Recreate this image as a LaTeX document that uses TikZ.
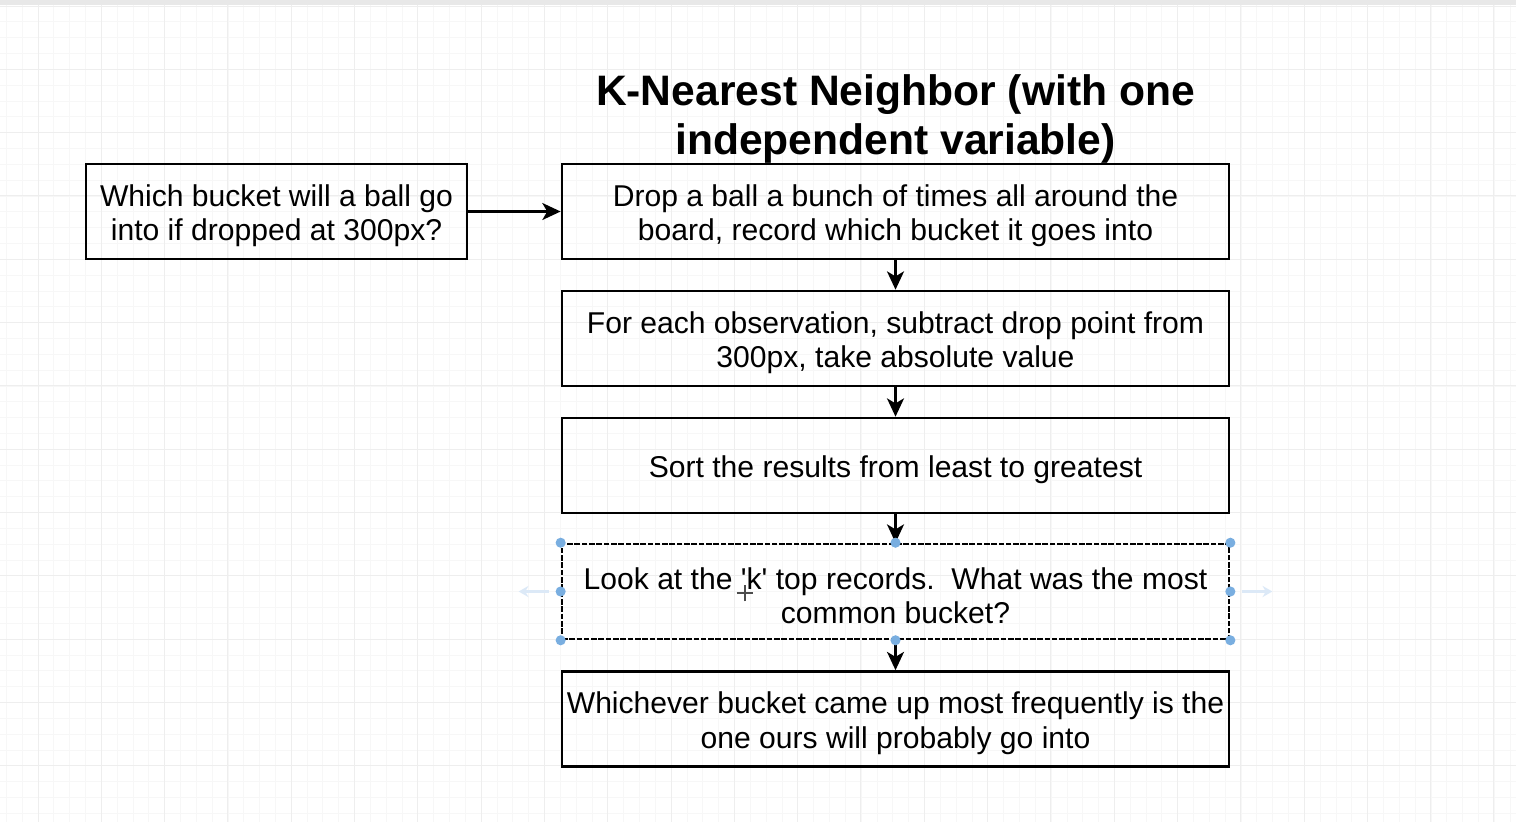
\documentclass[tikz,border=0pt]{standalone}
\usepackage{fontspec}
\setmainfont{Liberation Sans}
\usepackage{tikz}
\usetikzlibrary{arrows, arrows.meta, shapes, positioning}

\definecolor{gridminor}{HTML}{F7F7F7}
\definecolor{gridmajor}{HTML}{EEEEEE}
\definecolor{handleblue}{HTML}{79AEE0}
\definecolor{hintblue}{HTML}{DCE9F7}
\newcommand{\boxstrut}{\rule{0pt}{21.5pt}}

\begin{document}
\begin{tikzpicture}[x=0.025cm, y=-0.025cm, ->, >={Stealth[length=13pt, width=12pt, inset=3.5pt]}, line width=2.1pt,
	stepbox/.style={draw, rectangle, line width=1.8pt, minimum width=16.675cm, minimum height=2.375cm, align=center, inner sep=0pt, font=\fontsize{21.4}{24.8}\selectfont},
	handle/.style={fill=handleblue, draw=none},
	hint/.style={draw=hintblue, line width=1.6pt, >={Stealth[length=7pt, width=8pt]}}]
	\useasboundingbox (0,0) rectangle (1516,822);
	% grid paper
	\begin{scope}[-]
		\foreach \x in {6.3,22.13,...,1516} \draw[gridminor, line width=0.6pt] (\x,0) -- (\x,822);
		\foreach \y in {6,21.83,...,822} \draw[gridminor, line width=0.6pt] (0,\y) -- (1516,\y);
		\foreach \x in {38,101.3,...,1516} \draw[gridmajor, line width=0.7pt] (\x,0) -- (\x,822);
		\foreach \y in {6,69.3,...,822} \draw[gridmajor, line width=0.7pt] (0,\y) -- (1516,\y);
		\fill[gray!18] (0,0) rectangle (1516,5);
	\end{scope}
	
	\node[font=\bfseries\fontsize{30.3}{35.5}\selectfont, align=center, inner sep=0pt] (title) at (895.5,119) {K-Nearest Neighbor (with one\\independent variable)};
	
	\node[stepbox, minimum width=9.525cm] (ask) at (276.5,211.5) {\boxstrut Which bucket will a ball go\\into if dropped at 300px?};
	\node[stepbox] (drop) at (895.5,211.5) {\boxstrut Drop a ball a bunch of times all around the\\board, record which bucket it goes into};
	\node[stepbox] (diff) at (895.5,338.5) {\boxstrut For each observation, subtract drop point from\\300px, take absolute value};
	\node[stepbox] (sort) at (895.5,465.5) {\boxstrut Sort the results from least to greatest};
	\node[stepbox, dash pattern=on 4pt off 1.2pt] (topk) at (895.5,591.5) {\boxstrut Look at the \textquotesingle k\textquotesingle\ top records.\ \ What was the most\\common bucket?};
	\node[stepbox] (vote) at (895.5,719) {\boxstrut Whichever bucket came up most frequently is the\\one ours will probably go into};
	
	\draw (ask) -- (drop);
	\draw (drop) -- (diff);
	\draw (diff) -- (sort);
	\draw (sort) -- (topk);
	\draw (topk) -- (vote);
	
	% selection handles
	\foreach \a in {north west, north, north east, east, south east, south, south west, west}
		\fill[handle] (topk.\a) circle[radius=3.6pt];
	\coordinate (hintl) at ([xshift=-1.05cm]topk.west);
	\coordinate (hintr) at ([xshift=1.05cm]topk.east);
	\draw[hint] ([xshift=-0.3cm]topk.west) -- (hintl);
	\draw[hint] ([xshift=0.3cm]topk.east) -- (hintr);
	\coordinate (cursor) at (745,593);
	\draw[-, line width=1.2pt, black!70] ([yshift=-6pt]cursor) -- ([yshift=6pt]cursor) ([xshift=-6pt]cursor) -- ([xshift=6pt]cursor);
\end{tikzpicture}
\end{document}
